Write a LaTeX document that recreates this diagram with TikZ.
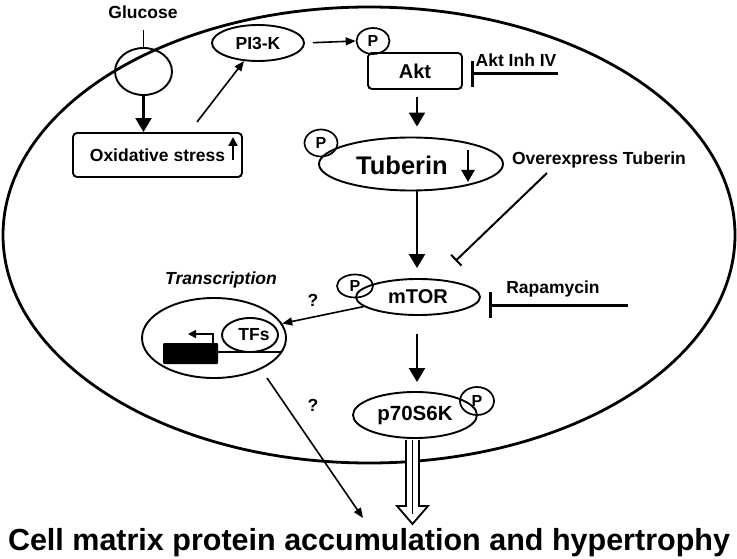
\documentclass[tikz,border=0pt]{standalone}
\usepackage{fontspec}
\setmainfont{Liberation Sans}
\usetikzlibrary{arrows.meta,shapes.geometric}
\begin{document}
\begin{tikzpicture}[x=1pt,y=-1pt,
  every node/.style={font=\bfseries\fontsize{17.5}{20}\selectfont, inner sep=0pt},
  ov/.style={draw, ellipse, line width=1.9pt},
  pc/.style={draw, ellipse, line width=1.7pt, font=\bfseries\fontsize{16}{18}\selectfont},
  rbox/.style={draw, rounded corners=4pt, line width=1.9pt},
  bigarr/.style={line width=2.2pt, -{Triangle[length=14pt,width=16pt]}},
  thinarr/.style={line width=1.6pt, -{Triangle[length=10pt,width=8pt]}},
  inh/.style={line width=3pt, -{Bar[width=26pt]}},
  inhthin/.style={line width=2pt, -{Bar[width=15pt]}},
]
\useasboundingbox (0,0) rectangle (737,559);
% cell
\node[draw, ellipse, line width=2.8pt, minimum width=732pt, minimum height=456pt] (cell) at (369,235) {};
% glucose
\node (gtxt) at (143,12) {Glucose};
\node[ov, minimum width=57pt, minimum height=47pt] (glu) at (143.5,71.5) {};
\coordinate (gtop) at (143.5,30);
\draw[line width=1.7pt] (gtop) -- (glu.north);
% oxidative stress
\node[rbox, minimum width=169pt, minimum height=44pt] (ox) at (157.5,155) {Oxidative stress\hspace{14pt}};
\coordinate (oxup1) at (233,160);
\coordinate (oxup2) at (233,137);
\draw[line width=2.4pt, -{Triangle[length=9pt,width=9pt]}] (oxup1) -- (oxup2);
\draw[bigarr] (glu.south) -- (ox.north -| glu.south);
% PI3-K
\node[ov, minimum width=92pt, minimum height=36pt] (pi3k) at (258,43) {PI3-K};
\coordinate (oxout) at (197,122);
\draw[thinarr] (oxout) -- (pi3k);
% Akt
\node[pc, minimum width=33pt, minimum height=26pt] (pakt) at (373,41) {P};
\node[rbox, minimum width=94pt, minimum height=36pt, font=\bfseries\fontsize{20}{22}\selectfont] (akt) at (415,71) {Akt};
\draw[thinarr, shorten <=8pt] (pi3k.east) -- (pakt.west);
\node (aktinh) at (516,60) {Akt Inh IV};
\coordinate (aktinhs) at (558,74);
\draw[inh, shorten >=8pt] (aktinhs) -- (akt.east |- aktinhs);
% Tuberin
\node[ov, minimum width=184pt, minimum height=53pt] (tub) at (411,164) {};
\node[font=\bfseries\fontsize{25.5}{28}\selectfont] (tubt) at (402,165) {Tuberin};
\node[pc, minimum width=33pt, minimum height=27pt] (ptub) at (321,143) {P};
\coordinate (tdn1) at (468,150);
\coordinate (tdn2) at (468,182);
\draw[line width=2.4pt, -{Triangle[length=12pt,width=13pt]}] (tdn1) -- (tdn2);
\draw[bigarr, shorten <=7pt, shorten >=10pt] (akt.south -| 417,0) -- (tub.north -| 417,0);
\node (ovtxt) at (599,160) {Overexpress Tuberin};
% mTOR
\node[ov, minimum width=124pt, minimum height=36pt, font=\bfseries\fontsize{20}{22}\selectfont] (mtor) at (418,297) {mTOR};
\node[pc, minimum width=36pt, minimum height=23pt] (pmtor) at (355,286) {P};
\draw[bigarr, shorten >=10pt] (tub.south -| 417,0) -- (mtor.north -| 417,0);
\coordinate (ovs) at (547,173);
\draw[inhthin, shorten >=26pt] (ovs) -- (mtor);
\node (rapa) at (553,289) {Rapamycin};
\coordinate (raps) at (628,305);
\draw[inh, shorten >=8pt] (raps) -- (mtor.east |- raps);
% transcription
\node[font=\bfseries\itshape\fontsize{17.5}{20}\selectfont] (trtxt) at (221,280) {Transcription};
\node[ov, minimum width=144pt, minimum height=80pt] (trans) at (214,338) {};
\node[ov, minimum width=56pt, minimum height=34pt] (tfs) at (250,335) {\hspace{8pt}TFs};
\node[fill=black, rounded corners=1pt, minimum width=55pt, minimum height=21pt] (gene) at (190.5,353.5) {};
\coordinate (dnaend) at (281.5,352);
\draw[line width=1.7pt] (gene.east |- dnaend) -- (dnaend);
\coordinate (tss) at (213,343);
\coordinate (tssend) at (188,334);
\draw[line width=1.6pt, -{Triangle[length=8pt,width=8pt]}] (tss) |- (tssend);
\node (q1) at (313,300) {?};
\node (q2) at (313,405) {?};
\draw[thinarr] (mtor.190) -- (trans.12);
\coordinate (trout) at (267,378);
\coordinate (trend) at (363,518);
\draw[thinarr] (trout) -- (trend);
% p70S6K
\node[ov, minimum width=124pt, minimum height=46pt, font=\bfseries\fontsize{20.5}{22}\selectfont] (p70) at (415,415) {p70S6K};
\node[pc, minimum width=34pt, minimum height=28pt] (pp70) at (477,401) {P};
\draw[bigarr, shorten <=18pt, shorten >=9pt] (mtor.south -| 417,0) -- (p70.north -| 417,0);
% hollow arrow
\draw[line width=1.8pt, fill=white, line join=miter] (406,440) -- (406,506) -- (397,506) -- (412.5,524) -- (428,506) -- (419,506) -- (419,440);
\draw[line width=1.3pt] (412.5,440) -- (412.5,514);
% bottom label
\node[anchor=base, font=\bfseries\fontsize{30.5}{34}\selectfont] (res) at (369,550) {Cell matrix protein accumulation and hypertrophy};
\end{tikzpicture}
\end{document}
